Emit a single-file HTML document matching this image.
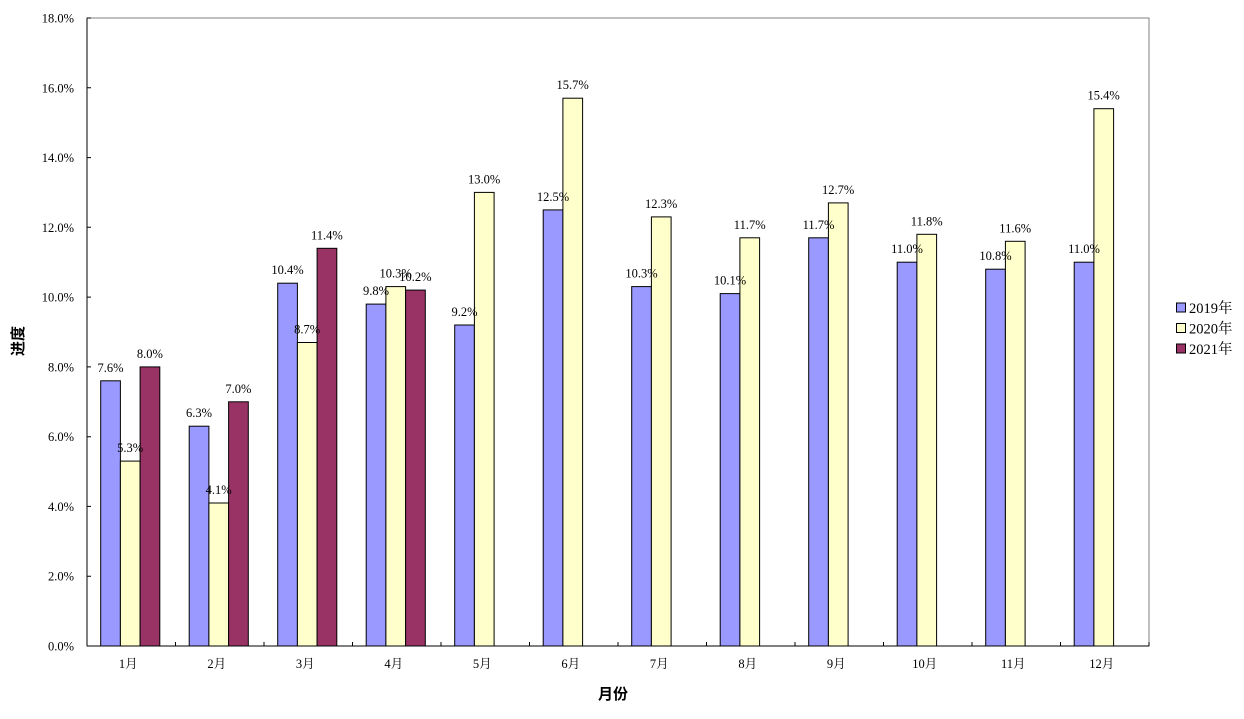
<!DOCTYPE html>
<html><head><meta charset="utf-8"><style>body{margin:0;background:#fff}svg{display:block}
.a{fill:#9999ff;stroke:#000;stroke-width:1}.b{fill:#ffffcc;stroke:#000;stroke-width:1}.c{fill:#993366;stroke:#000;stroke-width:1}
.l{font-size:12.5px;text-anchor:middle}.t{font-size:12.5px;text-anchor:end}
</style></head>
<body>
<svg width="1244" height="719" xmlns="http://www.w3.org/2000/svg" font-family="'Liberation Serif','Noto Serif CJK SC',serif">
<rect width="1244" height="719" fill="#fff"/>
<rect x="87" y="18" width="1062" height="628" fill="none" stroke="#808080"/>
<rect class="a" x="100.7" y="380.8" width="19.7" height="265.2"/>
<rect class="a" x="189.2" y="426.2" width="19.7" height="219.8"/>
<rect class="a" x="277.7" y="283.2" width="19.7" height="362.8"/>
<rect class="a" x="366.2" y="304.1" width="19.7" height="341.9"/>
<rect class="a" x="454.7" y="325.0" width="19.7" height="321.0"/>
<rect class="a" x="543.2" y="209.9" width="19.7" height="436.1"/>
<rect class="a" x="631.7" y="286.6" width="19.7" height="359.4"/>
<rect class="a" x="720.2" y="293.6" width="19.7" height="352.4"/>
<rect class="a" x="808.7" y="237.8" width="19.7" height="408.2"/>
<rect class="a" x="897.2" y="262.2" width="19.7" height="383.8"/>
<rect class="a" x="985.7" y="269.2" width="19.7" height="376.8"/>
<rect class="a" x="1074.2" y="262.2" width="19.7" height="383.8"/>
<rect class="b" x="120.4" y="461.1" width="19.7" height="184.9"/>
<rect class="b" x="208.9" y="503.0" width="19.7" height="143.0"/>
<rect class="b" x="297.4" y="342.5" width="19.7" height="303.5"/>
<rect class="b" x="385.9" y="286.6" width="19.7" height="359.4"/>
<rect class="b" x="474.4" y="192.4" width="19.7" height="453.6"/>
<rect class="b" x="562.9" y="98.2" width="19.7" height="547.8"/>
<rect class="b" x="651.4" y="216.9" width="19.7" height="429.1"/>
<rect class="b" x="739.9" y="237.8" width="19.7" height="408.2"/>
<rect class="b" x="828.4" y="202.9" width="19.7" height="443.1"/>
<rect class="b" x="916.9" y="234.3" width="19.7" height="411.7"/>
<rect class="b" x="1005.4" y="241.3" width="19.7" height="404.7"/>
<rect class="b" x="1093.9" y="108.7" width="19.7" height="537.3"/>
<rect class="c" x="140.1" y="366.9" width="19.7" height="279.1"/>
<rect class="c" x="228.6" y="401.8" width="19.7" height="244.2"/>
<rect class="c" x="317.1" y="248.3" width="19.7" height="397.7"/>
<rect class="c" x="405.6" y="290.1" width="19.7" height="355.9"/>
<g class="l">
<text class="l" x="110.5" y="371.8">7.6%</text>
<text class="l" x="199" y="417.2">6.3%</text>
<text class="l" x="287.5" y="274.2">10.4%</text>
<text class="l" x="376" y="295.1">9.8%</text>
<text class="l" x="464.5" y="316">9.2%</text>
<text class="l" x="553" y="200.9">12.5%</text>
<text class="l" x="641.5" y="277.6">10.3%</text>
<text class="l" x="730" y="284.6">10.1%</text>
<text class="l" x="818.5" y="228.8">11.7%</text>
<text class="l" x="907" y="253.2">11.0%</text>
<text class="l" x="995.5" y="260.2">10.8%</text>
<text class="l" x="1084" y="253.2">11.0%</text>
<text class="l" x="130.2" y="452.1">5.3%</text>
<text class="l" x="218.7" y="494">4.1%</text>
<text class="l" x="307.2" y="333.5">8.7%</text>
<text class="l" x="395.7" y="277.6">10.3%</text>
<text class="l" x="484.2" y="183.4">13.0%</text>
<text class="l" x="572.7" y="89.2">15.7%</text>
<text class="l" x="661.2" y="207.9">12.3%</text>
<text class="l" x="749.7" y="228.8">11.7%</text>
<text class="l" x="838.2" y="193.9">12.7%</text>
<text class="l" x="926.7" y="225.3">11.8%</text>
<text class="l" x="1015.2" y="232.3">11.6%</text>
<text class="l" x="1103.7" y="99.7">15.4%</text>
<text class="l" x="149.9" y="357.9">8.0%</text>
<text class="l" x="238.4" y="392.8">7.0%</text>
<text class="l" x="326.9" y="239.3">11.4%</text>
<text class="l" x="415.4" y="281.1">10.2%</text>
</g>
<line x1="87" y1="18" x2="87" y2="646" stroke="#000"/>
<line x1="87" y1="646" x2="1149" y2="646" stroke="#000"/>
<path d="M87 646h4M87 576.2h4M87 506.4h4M87 436.7h4M87 366.9h4M87 297.1h4M87 227.3h4M87 157.6h4M87 87.8h4M87 18h4" stroke="#000"/>
<path d="M175.5 646v-4M264 646v-4M352.5 646v-4M441 646v-4M529.5 646v-4M618 646v-4M706.5 646v-4M795 646v-4M883.5 646v-4M972 646v-4M1060.5 646v-4M1149 646v-4" stroke="#000"/>
<text class="t" x="74" y="650.5">0.0%</text>
<text class="t" x="74" y="580.7">2.0%</text>
<text class="t" x="74" y="510.9">4.0%</text>
<text class="t" x="74" y="441.2">6.0%</text>
<text class="t" x="74" y="371.4">8.0%</text>
<text class="t" x="74" y="301.6">10.0%</text>
<text class="t" x="74" y="231.8">12.0%</text>
<text class="t" x="74" y="162.1">14.0%</text>
<text class="t" x="74" y="92.3">16.0%</text>
<text class="t" x="74" y="22.5">18.0%</text>
<text class="l" x="128.3" y="668">1月</text>
<text class="l" x="216.8" y="668">2月</text>
<text class="l" x="305.3" y="668">3月</text>
<text class="l" x="393.8" y="668">4月</text>
<text class="l" x="482.3" y="668">5月</text>
<text class="l" x="570.8" y="668">6月</text>
<text class="l" x="659.3" y="668">7月</text>
<text class="l" x="747.8" y="668">8月</text>
<text class="l" x="836.3" y="668">9月</text>
<text class="l" x="924.8" y="668">10月</text>
<text class="l" x="1013.3" y="668">11月</text>
<text class="l" x="1101.8" y="668">12月</text>
<text x="613" y="699" font-size="15" font-weight="bold" text-anchor="middle" font-family="'Noto Sans CJK SC',sans-serif">月份</text>
<text x="0" y="0" font-size="15" font-weight="bold" text-anchor="middle" font-family="'Noto Sans CJK SC',sans-serif" transform="translate(23,341) rotate(-90)">进度</text>
<rect class="a" x="1176.5" y="303" width="9" height="9"/>
<rect class="b" x="1176.5" y="323.5" width="9" height="9"/>
<rect class="c" x="1176.5" y="344" width="9" height="9"/>
<text x="1189" y="313" font-size="14.5">2019年</text>
<text x="1189" y="333.5" font-size="14.5">2020年</text>
<text x="1189" y="354" font-size="14.5">2021年</text>
</svg>
</body></html>
